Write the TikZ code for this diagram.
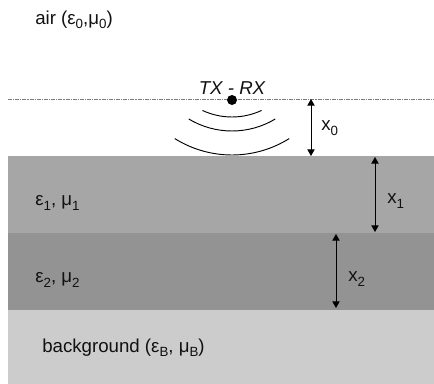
\documentclass[tikz,border=0pt]{standalone}
\usepackage{fontspec}
\setmainfont{Liberation Sans}
\usepackage{xcolor}
\definecolor{layerOne}{HTML}{A6A6A6}
\definecolor{layerTwo}{HTML}{939393}
\definecolor{layerBack}{HTML}{CCCCCC}
\definecolor{surfaceGray}{HTML}{7A7A7A}
\definecolor{labelText}{HTML}{111111}
\usetikzlibrary{arrows.meta, positioning, calc}
\newcommand{\lowsub}[1]{\raisebox{-0.45ex}{\fontsize{10}{10}\selectfont #1}}

\begin{document}
\begin{tikzpicture}[
        x=0.75pt, y=0.75pt,
        layerText/.style={
            anchor=west,
            inner sep=0pt,
            font=\fontsize{14}{16}\selectfont,
            text=labelText
        },
        dimLabel/.style={
            anchor=west,
            inner sep=0pt,
            font=\fontsize{14}{16}\selectfont,
            text=labelText
        },
        dimArrow/.style={
            {Triangle[length=5pt,width=5.5pt]}-{Triangle[length=5pt,width=5.5pt]},
            line width=0.7pt,
            black
        },
        waveArc/.style={
            line width=0.7pt,
            black
        }
    ]
    \useasboundingbox (0,0) rectangle (434,384);

    % Layers
    \fill[layerBack] (8,0) rectangle (434,74);
    \fill[layerTwo] (8,74) rectangle (434,151);
    \fill[layerOne] (8,151) rectangle (434,228);

    % Surface line
    \draw[surfaceGray, line width=0.7pt, dash pattern=on 3pt off 0.8pt on 0.8pt off 0.8pt] (8,285) -- (434,285);

    % Antenna
    \fill[black] (232,284) circle (5);
    \node[font=\fontsize{14}{16}\selectfont\itshape, text=labelText] (antenna) at (232,296) {TX - RX};

    % Waves
    \draw[waveArc] (232,337) ++(245:70) arc (245:295:70);
    \draw[waveArc] (232,337) ++(239:84) arc (239:301:84);
    \draw[waveArc] (232,337) ++(238:108) arc (238:302:108);

    % Labels
    \node[layerText] (air) at (35,364) {air (ε\lowsub{0},μ\lowsub{0})};
    \node[layerText] (medOne) at (35,181) {ε\lowsub{1}, μ\lowsub{1}};
    \node[layerText] (medTwo) at (35,104) {ε\lowsub{2}, μ\lowsub{2}};
    \node[layerText] (back) at (42,36) {background (ε\lowsub{B}, μ\lowsub{B})};

    % Thickness arrows
    \coordinate (x0top) at (311,285);
    \coordinate (x0bot) at (311,228);
    \coordinate (x1top) at (375,227);
    \coordinate (x1bot) at (375,152);
    \coordinate (x2top) at (336,150);
    \coordinate (x2bot) at (336,76);
    \draw[dimArrow] (x0top) -- (x0bot);
    \draw[dimArrow] (x1top) -- (x1bot);
    \draw[dimArrow] (x2top) -- (x2bot);
    \node[dimLabel] (xzero) at (321,256) {x\lowsub{0}};
    \node[dimLabel] (xone) at (387,183) {x\lowsub{1}};
    \node[dimLabel] (xtwo) at (348,105) {x\lowsub{2}};
\end{tikzpicture}
\end{document}
